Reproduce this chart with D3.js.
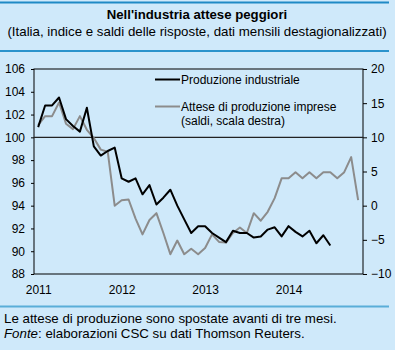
<!DOCTYPE html>
<html>
<head>
<meta charset="utf-8">
<script src="https://cdn.jsdelivr.net/npm/d3@7"></script>
<style>
  body { margin: 0; background: #cfe9fa; }
  svg { display: block; font-family: "Liberation Sans", Arial, sans-serif; }
</style>
</head>
<body>
<div id="chart"></div>
<script>
// indice produzione industriale, mensile da gen 2011
var produzione = [100.9, 102.8, 102.8, 103.5, 101.6, 101.0, 100.5, 102.6, 99.2, 98.4, 98.8, 99.1,
  96.4, 96.1, 96.4, 95.0, 95.8, 94.1, 94.7, 95.4, 94.0, 92.8, 91.6, 92.2,
  92.2, 91.6, 91.2, 90.8, 91.8, 91.6, 91.6, 91.2, 91.3, 91.9, 92.1, 91.3,
  92.2, 91.7, 91.3, 91.8, 90.7, 91.4, 90.5];
// attese di produzione (saldi), spostate avanti di tre mesi
var attese = [11.8, 13.1, 13.1, 15.1, 12.0, 11.2, 13.1, 11.1, 9.9, 8.2, 7.9, 0.0,
  0.8, 0.9, -1.9, -4.2, -2.1, -1.1, -4.0, -7.1, -5.1, -7.1, -6.3, -7.1,
  -6.2, -4.2, -5.3, -5.4, -4.0, -3.2, -4.0, -1.1, -2.2, -0.9, 1.1, 4.0,
  4.0, 4.9, 4.0, 4.9, 4.0, 4.9, 4.9, 4.0, 4.9, 7.1, 0.8];
var anni = ["2011", "2012", "2013", "2014"];
var tickSx = [88, 90, 92, 94, 96, 98, 100, 102, 104, 106];
var tickDx = [-10, -5, 0, 5, 10, 15, 20];

var W = 395, H = 350;
var svg = d3.select("#chart").append("svg").attr("width", W).attr("height", H);

svg.append("rect").attr("width", W).attr("height", H).attr("fill", "#cfe9fa");

// linee di separazione
svg.append("line").attr("x1", 0).attr("x2", 389).attr("y1", 2.5).attr("y2", 2.5)
  .attr("stroke", "#1f8ac5").attr("stroke-width", 2);
svg.append("line").attr("x1", 0).attr("x2", 389).attr("y1", 51).attr("y2", 51)
  .attr("stroke", "#2a93cc").attr("stroke-width", 2);
svg.append("line").attr("x1", 0).attr("x2", 389).attr("y1", 306.5).attr("y2", 306.5)
  .attr("stroke", "#5aaed8").attr("stroke-width", 2);

// titoli
svg.append("text").attr("x", 197).attr("y", 19).attr("text-anchor", "middle")
  .attr("font-size", 13.2).attr("font-weight", "bold")
  .text("Nell'industria attese peggiori");
svg.append("text").attr("x", 197).attr("y", 36).attr("text-anchor", "middle")
  .attr("font-size", 13.3)
  .text("(Italia, indice e saldi delle risposte, dati mensili destagionalizzati)");

var pL = 34, pR = 363, pT = 69, pB = 274;

var x = d3.scaleLinear().domain([-0.6, 46.7]).range([pL, pR]);
var yS = d3.scaleLinear().domain([88, 106]).range([pB, pT]);
var yD = d3.scaleLinear().domain([-10, 20]).range([pB, pT]);

// riquadro
svg.append("rect").attr("x", pL).attr("y", pT)
  .attr("width", pR - pL).attr("height", pB - pT)
  .attr("fill", "none").attr("stroke", "#000").attr("stroke-width", 1);

// linea a 100
svg.append("line").attr("x1", pL).attr("x2", pR)
  .attr("y1", yS(100)).attr("y2", yS(100))
  .attr("stroke", "#222").attr("stroke-width", 1.2);

var axL = svg.append("g").attr("transform", "translate(" + pL + ",0)")
  .call(d3.axisLeft(yS).tickValues(tickSx).tickSize(3).tickPadding(6));
var axR = svg.append("g").attr("transform", "translate(" + pR + ",0)")
  .call(d3.axisRight(yD).tickValues(tickDx).tickSize(4).tickPadding(4));
var axB = svg.append("g").attr("transform", "translate(0," + pB + ")")
  .call(d3.axisBottom(x).tickValues([0, 12, 24, 36])
    .tickFormat(function(d, i){ return anni[i]; }).tickSize(0).tickPadding(11));

[axL, axR, axB].forEach(function(g){
  g.select(".domain").remove();
  g.selectAll("text").attr("font-size", 12).attr("fill", "#000")
    .attr("font-family", "'Liberation Sans', Arial, sans-serif");
  g.selectAll("line").attr("stroke", "#000");
});

// serie
svg.append("path").datum(attese)
  .attr("fill", "none").attr("stroke", "#8c8c8c").attr("stroke-width", 2)
  .attr("stroke-linejoin", "round")
  .attr("d", d3.line().x(function(d, i){ return x(i); }).y(function(d){ return yD(d); }));
svg.append("path").datum(produzione)
  .attr("fill", "none").attr("stroke", "#000").attr("stroke-width", 2)
  .attr("stroke-linejoin", "round")
  .attr("d", d3.line().x(function(d, i){ return x(i); }).y(function(d){ return yS(d); }));

// legenda
var leg = svg.append("g").attr("font-size", 12);
leg.append("line").attr("x1", 155).attr("x2", 180).attr("y1", 79.5).attr("y2", 79.5)
  .attr("stroke", "#000").attr("stroke-width", 2);
leg.append("text").attr("x", 181).attr("y", 84).text("Produzione industriale");
leg.append("line").attr("x1", 155).attr("x2", 180).attr("y1", 106.5).attr("y2", 106.5)
  .attr("stroke", "#8c8c8c").attr("stroke-width", 2);
leg.append("text").attr("x", 181).attr("y", 111).text("Attese di produzione imprese");
leg.append("text").attr("x", 181).attr("y", 125).text("(saldi, scala destra)");

// note
svg.append("text").attr("x", 4).attr("y", 323).attr("font-size", 13.3)
  .text("Le attese di produzione sono spostate avanti di tre mesi.");
var nota = svg.append("text").attr("x", 4).attr("y", 338).attr("font-size", 13.3);
nota.append("tspan").attr("font-style", "italic").text("Fonte");
nota.append("tspan").text(": elaborazioni CSC su dati Thomson Reuters.");
</script>
</body>
</html>
